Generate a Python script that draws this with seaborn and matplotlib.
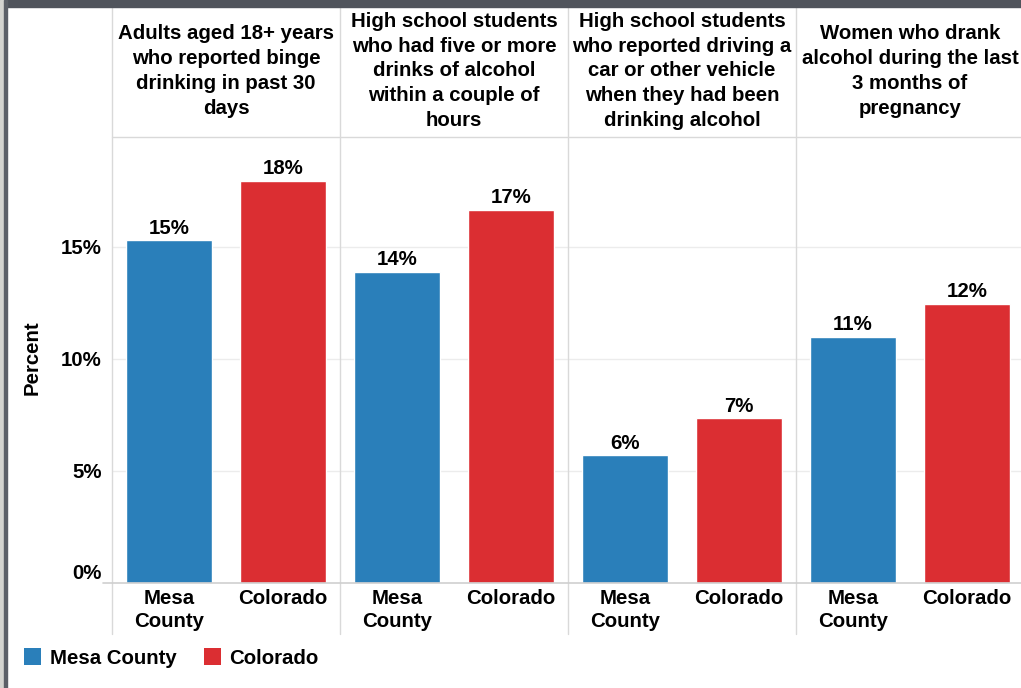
import matplotlib
matplotlib.use("Agg")
import matplotlib.pyplot as plt
from matplotlib.lines import Line2D
from matplotlib.patches import Patch, Rectangle
import pandas as pd
import seaborn as sns

# values
measures = [
    "Adults aged 18+ years\nwho reported binge\ndrinking in past 30\ndays",
    "High school students\nwho had five or more\ndrinks of alcohol\nwithin a couple of\nhours",
    "High school students\nwho reported driving a\ncar or other vehicle\nwhen they had been\ndrinking alcohol",
    "Women who drank\nalcohol during the last\n3 months of\npregnancy",
]
groups = ["Mesa County", "Colorado"]
tick_labels = ["Mesa\nCounty", "Colorado"]
mesa_county = [15.3, 13.9, 5.7, 11.0]
colorado = [17.95, 16.65, 7.35, 12.45]
yticks = [0, 5, 10, 15]
ytick_labels = ["0%", "5%", "10%", "15%"]

colors = {"Mesa County": "#2a7fba", "Colorado": "#db2e32"}
grid_c = "#ececec"
line_c = "#d9d9d9"
FS = 14.7

rows = []
for i, m in enumerate(measures):
    rows.append({"measure": m, "group": "Mesa County", "value": mesa_county[i]})
    rows.append({"measure": m, "group": "Colorado", "value": colorado[i]})
df = pd.DataFrame(rows)

sns.set_style("white")
plt.rcParams["font.family"] = ["Liberation Sans", "DejaVu Sans"]
plt.rcParams["font.weight"] = "bold"
plt.rcParams["text.color"] = "black"

W, H = 1021, 688
fig = plt.figure(figsize=(W / 100, H / 100), dpi=100)

def fx(px):
    return px / W

def fy(py):
    return 1 - py / H

# frame decorations (top bar, left strip)
fig.add_artist(Rectangle((0, fy(7)), 1, 7 / H, transform=fig.transFigure, color="#50545c", zorder=5))
fig.add_artist(Rectangle((0, 0), fx(4), 1, transform=fig.transFigure, color="#d4d4d0", zorder=5))
fig.add_artist(Rectangle((fx(4), 0), fx(3), 1, transform=fig.transFigure, color="#5c6068", zorder=5))

top, base = 137, 583
panel_w = 228
ymax = (base - top) / 22.4

for i, m in enumerate(measures):
    left = 112 + panel_w * i
    ax = fig.add_axes([fx(left), fy(base), fx(panel_w), (base - top) / H])
    sub = df[df["measure"] == m]
    sns.barplot(data=sub, x="group", y="value", hue="group", order=groups,
                palette=colors, width=0.75, legend=False, ax=ax, saturation=1)
    ax.set_ylim(0, ymax)
    ax.set_xlim(-0.5, 1.5)
    ax.set_yticks(yticks)
    for y in yticks[1:]:
        ax.axhline(y, color=grid_c, lw=1, zorder=0)
    for s in ax.spines.values():
        s.set_visible(False)
    ax.set_xlabel("")
    ax.set_ylabel("")
    ax.set_xticks([0, 1])
    ax.set_xticklabels(tick_labels, fontsize=FS, fontweight="bold", linespacing=1.3)
    ax.tick_params(axis="x", length=0, pad=4, labelcolor="black")
    if i == 0:
        ax.set_yticklabels(ytick_labels, fontsize=FS, fontweight="bold")
        ax.tick_params(axis="y", length=6.5, color=grid_c, pad=1, labelcolor="black")
        ax.get_yticklabels()[0].set_verticalalignment("bottom")
    else:
        ax.set_yticklabels([])
        ax.tick_params(axis="y", length=0)
    for p in ax.patches:
        h = p.get_height()
        ax.annotate(f"{round(h)}%", (p.get_x() + p.get_width() / 2, h),
                    xytext=(0, 2), textcoords="offset points",
                    ha="center", va="bottom", fontsize=FS, fontweight="bold")
    # header text
    fig.text(fx(left + panel_w / 2), fy(71), m, ha="center", va="center",
             fontsize=FS, fontweight="bold", linespacing=1.38)
    # vertical separator
    fig.add_artist(Line2D([fx(left), fx(left)], [fy(7), fy(634)], color=line_c, lw=1,
                          transform=fig.transFigure))

# header divider and baseline
fig.add_artist(Line2D([fx(112), 1], [fy(top), fy(top)], color=line_c, lw=1, transform=fig.transFigure))
fig.add_artist(Line2D([fx(103), 1], [fy(base), fy(base)], color="#cfcfcf", lw=1.2, transform=fig.transFigure))

fig.text(fx(32), fy(358), "Percent", rotation=90, ha="center", va="center",
         fontsize=FS, fontweight="bold")

handles = [Patch(facecolor=colors[g], edgecolor="none", label=g) for g in groups]
fig.legend(handles=handles, loc="center left", bbox_to_anchor=(fx(24), fy(658)),
           ncol=2, frameon=False, handlelength=0.85, handleheight=0.85,
           handletextpad=0.4, columnspacing=1.35, borderpad=0, borderaxespad=0,
           prop={"weight": "bold", "size": FS})

fig.savefig("out.png", dpi=100, facecolor="white")
